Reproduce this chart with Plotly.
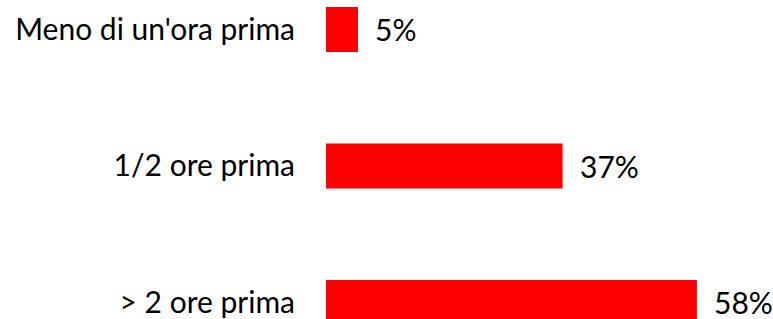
import plotly.graph_objects as go

categories = ["> 2 ore prima", "1/2 ore prima", "Meno di un'ora prima"]
values = [58, 37, 5]
value_labels = ["58%", "37%", "5%"]

FONT = "Lato"
SIZE = 30
fig = go.Figure()
fig.add_trace(go.Bar(
    y=categories, x=values, orientation="h",
    marker=dict(color="#FF0000", line=dict(width=0)),
    width=0.33, showlegend=False, hoverinfo="skip",
))
for c, v, t in zip(categories, values, value_labels):
    fig.add_annotation(x=v, y=c, text=t, showarrow=False, xanchor="left",
                       yanchor="middle", xshift=15,
                       font=dict(family=FONT, size=SIZE, color="#000000"))

fig.update_layout(
    width=773, height=319,
    margin=dict(l=326, r=0, t=0, b=0, autoexpand=False),
    paper_bgcolor="white", plot_bgcolor="white",
    font=dict(family=FONT, size=SIZE, color="#000000"),
    xaxis=dict(range=[0, 69.9], visible=False, fixedrange=True, automargin=False),
    yaxis=dict(range=[-0.121, 2.216], showgrid=False, zeroline=False,
               showline=False, ticks="", ticklabelstandoff=30, automargin=False,
               tickfont=dict(family=FONT, size=SIZE, color="#000000")),
)
fig.write_html("out.html", config={"displayModeBar": False},
               post_script="document.body.style.margin='0px';document.body.style.overflow='hidden';")
